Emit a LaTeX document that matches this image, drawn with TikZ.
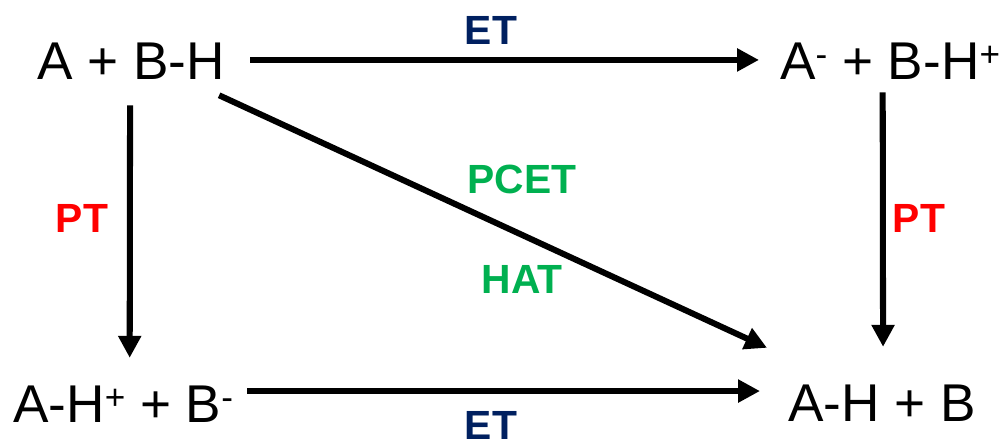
\documentclass[tikz,border=0pt]{standalone}
\usepackage{fontspec}
\setmainfont{Liberation Sans}
\usepackage{xcolor}
\usepackage{tikz}
\usetikzlibrary{arrows.meta}
\definecolor{etblue}{HTML}{002060}
\definecolor{ptred}{HTML}{FF0000}
\definecolor{hatgreen}{HTML}{00B050}
\newcommand{\chg}[1]{\raisebox{9pt}{\fontsize{25}{25}\selectfont #1}}
\begin{document}
\begin{tikzpicture}[
  x=0.025cm, y=-0.025cm,
  species/.style={anchor=base west, inner sep=0pt, text height=27.1pt, text depth=0pt,
    font=\fontsize{37.8}{45}\selectfont},
  lbl/.style={inner sep=0pt, text height=21pt, text depth=0pt,
    font=\fontsize{29}{35}\selectfont\bfseries},
  arr/.style={-{Triangle[length=0.55cm, width=0.55cm]}, line width=4.3pt}
]
\useasboundingbox (0,0) rectangle (1005,440);

%% Corners
\node[species] (ABH)   at (37,79)   {A + B-H};
\node[species] (AmBHp) at (780,79)  {A\chg{-} + B-H\chg{+}};
\node[species] (AHpBm) at (13,422)  {A-H\chg{+} + B\chg{-}};
\node[species] (AHB)   at (788,421) {A-H + B};

%% Electron transfer (top, bottom)
\draw[arr] ([shift={(25,0)}]ABH.east) -- ([shift={(-21,0)}]AmBHp.west);
\draw[arr] ([shift={(14,-11.9)}]AHpBm.east) -- ([shift={(-28,-10.9)}]AHB.west);
\node[lbl, etblue] (et1) at (491,30)  {ET};
\node[lbl, etblue] (et2) at (491,425) {ET};

%% Proton transfer (left, right)
\draw[arr] ([shift={(-1,26)}]ABH.south) -- ([shift={(6.5,-25.8)}]AHpBm.north);
\draw[arr] ([shift={(-7.5,13)}]AmBHp.south) -- ([shift={(1,-35.8)}]AHB.north);
\node[lbl, ptred] (pt1) at (82,218)  {PT};
\node[lbl, ptred] (pt2) at (919,218) {PT};

%% Concerted (diagonal)
\draw[arr] ([shift={(-6,16)}]ABH.south east) -- ([shift={(-21,-34.8)}]AHB.north west);
\node[lbl, hatgreen] (pcet) at (522,179) {PCET};
\node[lbl, hatgreen] (hat)  at (522,279) {HAT};

\end{tikzpicture}
\end{document}
